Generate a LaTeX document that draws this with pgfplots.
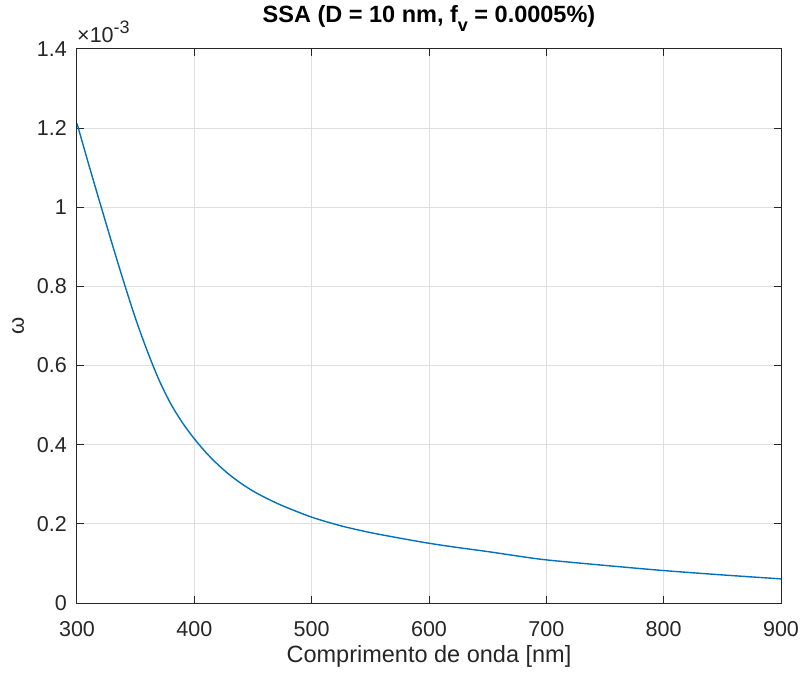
\documentclass[border=0pt]{standalone}
\usepackage{fontspec}
\setmainfont{Liberation Sans}
\usepackage{pgfplots}
\pgfplotsset{compat=1.18}
\definecolor{mblue}{HTML}{0072BD}
\definecolor{mgrid}{HTML}{DFDFDF}
\definecolor{maxis}{HTML}{262626}

\newcommand\tickfont{\fontsize{21.5}{24}\selectfont}
\newcommand\labfont{\fontsize{23.5}{26}\selectfont}

\begin{document}
\begin{tikzpicture}
\begin{axis}[
    name=ax,
    scale only axis,
    width=704pt, height=554pt,
    xmin=300, xmax=900,
    ymin=0, ymax=1.4e-3,
    xtick={300,400,500,600,700,800,900},
    ytick={0,0.2e-3,0.4e-3,0.6e-3,0.8e-3,1.0e-3,1.2e-3,1.4e-3},
    scaled y ticks=base 10:3,
    ytick scale label code/.code={},
    /pgf/number format/assume math mode=true,
    yticklabel style={/pgf/number format/fixed, /pgf/number format/precision=1,
        font=\tickfont, text=maxis, inner sep=0pt, xshift=-10pt},
    xticklabel style={font=\tickfont, text=maxis, inner sep=0pt, yshift=-18pt},
    grid=major,
    grid style={mgrid, line width=1pt},
    axis line style={maxis, line width=1pt},
    tick style={maxis, line width=1pt},
    major tick length=7pt,
    tick align=inside,
    title={SSA (D = 10 nm, f\raisebox{-0.35em}{\fontsize{18}{20}\selectfont v} = 0.0005\%)},
    title style={at={(axis description cs:0.5,1)}, anchor=base, inner sep=0pt,
        yshift=20pt, font=\bfseries\labfont},
    xlabel={Comprimento de onda [nm]},
    xlabel style={at={(axis description cs:0.5,0)}, anchor=north, inner sep=0pt,
        yshift=-42pt, font=\labfont, text=maxis},
    ylabel={ω},
    ylabel style={at={(axis description cs:0,0.5)}, anchor=center, inner sep=0pt,
        yshift=59pt, font=\fontsize{22}{24}\selectfont, text=maxis},
]
\addplot[mblue, line width=1.4pt, smooth, no marks] table {
x y
300 1.212e-3
310 1.108e-3
320 1.007e-3
330 0.907e-3
340 0.810e-3
350 0.718e-3
360 0.636e-3
370 0.563e-3
380 0.503e-3
390 0.455e-3
400 0.415e-3
410 0.380e-3
420 0.350e-3
430 0.324e-3
440 0.302e-3
450 0.283e-3
460 0.267e-3
475 0.246e-3
500 0.217e-3
525 0.195e-3
550 0.178e-3
575 0.164e-3
600 0.151e-3
625 0.140e-3
650 0.130e-3
675 0.119e-3
700 0.109e-3
750 0.095e-3
800 0.082e-3
850 0.071e-3
900 0.061e-3
};
\end{axis}
\node[anchor=base west, inner sep=0pt, yshift=6pt, font=\tickfont, text=maxis]
    at (ax.north west) {×10\raisebox{0.42em}{\fontsize{18}{20}\selectfont -3}};
\pgfresetboundingbox
\path ([shift={(-77pt,-70pt)}]ax.south west) rectangle ([shift={(20pt,49pt)}]ax.north east);
\end{tikzpicture}
\end{document}
